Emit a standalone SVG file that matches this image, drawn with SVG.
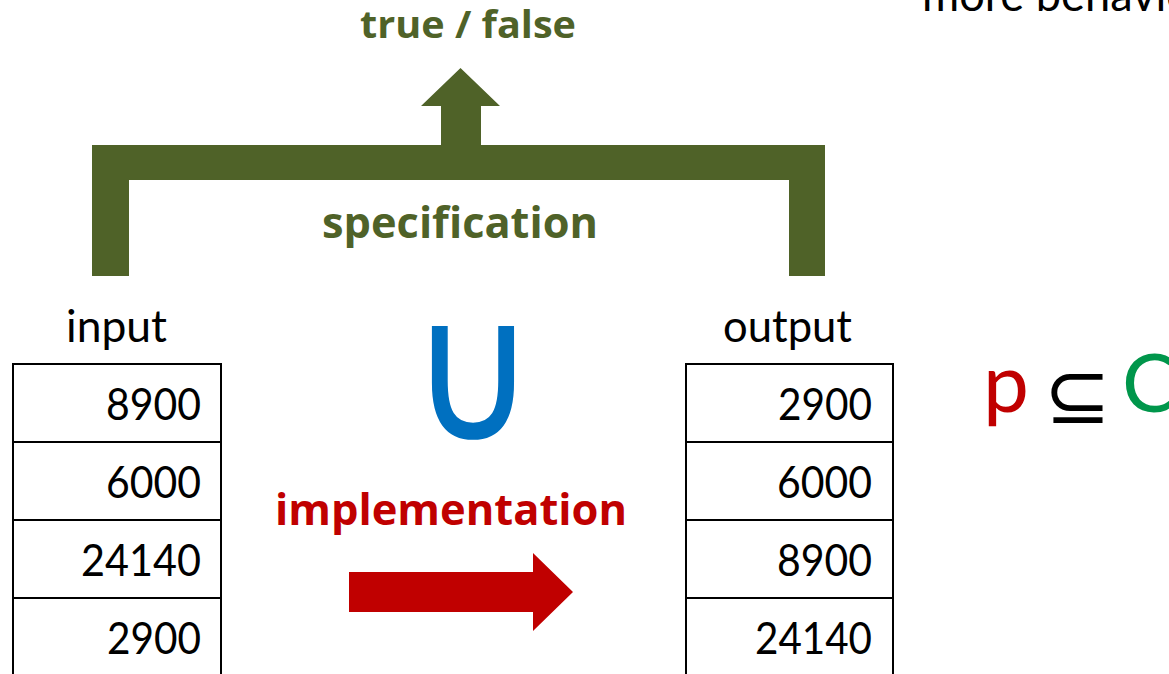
<svg xmlns="http://www.w3.org/2000/svg" width="1169" height="674" viewBox="0 0 1169 674">
  <style>
    .txt { font-family: Lato, "Open Sans", "Liberation Sans", sans-serif; fill: #000; }
    .bold { font-family: "Open Sans", "Liberation Sans", sans-serif; font-weight: bold; font-variant-ligatures: none; font-feature-settings: "liga" 0, "clig" 0; }
    .green { fill: #4F6228; }
    .red { fill: #C00000; }
    .cell { fill: #fff; stroke: #000; stroke-width: 2; }
    .num { font-size: 45px; }
    .head { font-size: 44px; }
  </style>
  <rect width="1169" height="674" fill="#fff"/>

  <!-- caption running off the top edge -->
  <g id="caption">
    <text class="txt" x="922" y="11" font-size="46" textLength="270" lengthAdjust="spacingAndGlyphs">more behavio</text>
  </g>

  <g id="connectors">
    <!-- specification bracket joining input and output, with result arrow -->
    <polygon class="green" points="92,276 92,145 441,145 441,106 421,106 460.5,68 500,106 481,106 481,145 825,145 825,276 789,276 789,180 129,180 129,276"/>
    <!-- implementation arrow -->
    <polygon class="red" points="349,572 533,572 533,553 573,592 533,631 533,612 349,612"/>
  </g>

  <g id="result">
    <text class="txt bold green" x="360" y="38" font-size="38" textLength="216" lengthAdjust="spacingAndGlyphs">true / false</text>
  </g>

  <g id="specification">
    <text class="txt bold green" x="322" y="238" font-size="43" textLength="276" lengthAdjust="spacingAndGlyphs">specification</text>
  </g>

  <g id="implementation">
    <text class="txt bold red" x="275" y="525" font-size="43" textLength="352" lengthAdjust="spacingAndGlyphs">implementation</text>
  </g>

  <g id="union" transform="translate(473,439) scale(1,1.14)">
    <text x="0" y="0" font-size="170" text-anchor="middle" style="fill:#0070C0; stroke:#0070C0; stroke-width:1.5; font-family:'DejaVu Sans', sans-serif">∪</text>
  </g>

  <g id="input">
    <text class="txt head" x="66" y="342" textLength="101" lengthAdjust="spacingAndGlyphs">input</text>
    <rect class="cell" x="13" y="364" width="208" height="78"/>
    <rect class="cell" x="13" y="442" width="208" height="78"/>
    <rect class="cell" x="13" y="520" width="208" height="78"/>
    <rect class="cell" x="13" y="598" width="208" height="90"/>
    <text class="txt num" x="106" y="420" textLength="95" lengthAdjust="spacingAndGlyphs">8900</text>
    <text class="txt num" x="106" y="498" textLength="95" lengthAdjust="spacingAndGlyphs">6000</text>
    <text class="txt num" x="81" y="576" textLength="120" lengthAdjust="spacingAndGlyphs">24140</text>
    <text class="txt num" x="107" y="654" textLength="94" lengthAdjust="spacingAndGlyphs">2900</text>
  </g>

  <g id="output">
    <text class="txt head" x="723" y="342" textLength="129" lengthAdjust="spacingAndGlyphs">output</text>
    <rect class="cell" x="686" y="364" width="207" height="78"/>
    <rect class="cell" x="686" y="442" width="207" height="78"/>
    <rect class="cell" x="686" y="520" width="207" height="78"/>
    <rect class="cell" x="686" y="598" width="207" height="90"/>
    <text class="txt num" x="778" y="420" textLength="94" lengthAdjust="spacingAndGlyphs">2900</text>
    <text class="txt num" x="777" y="498" textLength="95" lengthAdjust="spacingAndGlyphs">6000</text>
    <text class="txt num" x="777" y="576" textLength="95" lengthAdjust="spacingAndGlyphs">8900</text>
    <text class="txt num" x="755" y="654" textLength="117" lengthAdjust="spacingAndGlyphs">24140</text>
  </g>

  <g id="subset">
    <text class="txt red" x="983" y="412" font-size="82">p</text>
    <text class="txt" x="1044" y="423" font-size="80" style="font-family:'DejaVu Sans', sans-serif">⊆</text>
    <text class="txt" x="1122" y="412" font-size="82" style="fill:#00964B">C</text>
  </g>
</svg>
